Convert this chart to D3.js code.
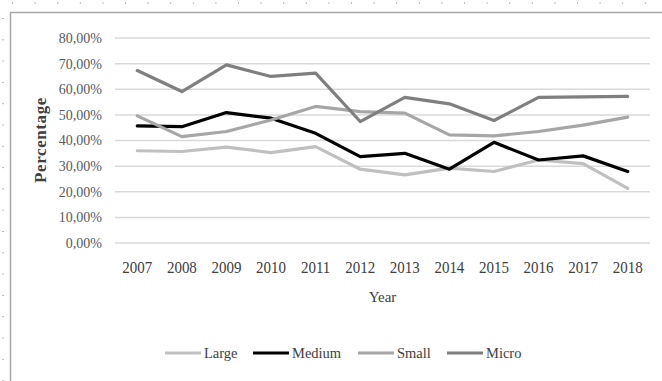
<!DOCTYPE html>
<html>
<head>
<meta charset="utf-8">
<script src="https://cdn.jsdelivr.net/npm/d3@7"></script>
<style>
  html, body { margin: 0; padding: 0; background: #fff; }
  svg { display: block; }
  text { font-family: "Liberation Serif", "DejaVu Serif", serif; }
</style>
</head>
<body>
<svg id="chart" width="662" height="381"></svg>
<script>
// Share of firms by size class, 2007–2018
const years = ["2007","2008","2009","2010","2011","2012","2013","2014","2015","2016","2017","2018"];
const large  = [36.0, 35.7, 37.4, 35.3, 37.6, 28.8, 26.6, 29.2, 27.9, 32.4, 31.0, 21.3];
const medium = [45.7, 45.4, 50.9, 48.7, 42.8, 33.7, 35.0, 28.8, 39.3, 32.4, 34.0, 27.9];
const small  = [49.6, 41.5, 43.5, 48.0, 53.3, 51.3, 50.7, 42.2, 41.8, 43.5, 46.0, 49.1];
const micro  = [67.3, 59.1, 69.5, 65.0, 66.3, 47.4, 56.8, 54.3, 47.8, 56.8, 57.0, 57.2];
const seriesNames = ["Large", "Medium", "Small", "Micro"];
const yTicks = [0, 10, 20, 30, 40, 50, 60, 70, 80];

const colors = { Large: "#c0c0c0", Medium: "#000000", Small: "#a6a6a6", Micro: "#7f7f7f" };
const series = [
  { name: "Large", values: large },
  { name: "Medium", values: medium },
  { name: "Small", values: small },
  { name: "Micro", values: micro }
];

const svg = d3.select("#chart");

// page ruler marks along top and left
const ruler = svg.append("g").attr("fill", "#bdbdbd");
ruler.selectAll("rect.tx").data(d3.range(12, 662, 22.6)).join("rect")
  .attr("x", d => d).attr("y", 2).attr("width", 1).attr("height", 2);
ruler.selectAll("rect.ly").data(d3.range(18, 381, 21.3)).join("rect")
  .attr("x", 2).attr("y", d => d).attr("width", 2).attr("height", 1);

// chart area frame
svg.append("rect")
  .attr("x", 10.5).attr("y", 12.5).attr("width", 670).attr("height", 400)
  .attr("fill", "#fff").attr("stroke", "#a6a6a6").attr("stroke-width", 1.5);

const x = d3.scaleBand().domain(years).range([115, 650]);
const y = d3.scaleLinear().domain([0, 80]).range([243, 38]);

// horizontal gridlines
svg.append("g").selectAll("line").data(yTicks).join("line")
  .attr("x1", 115).attr("x2", 650)
  .attr("y1", d => y(d)).attr("y2", d => y(d))
  .attr("stroke", "#d9d9d9").attr("stroke-width", 1.5);

// y axis labels
const fmt = d => d3.format(".2f")(d).replace(".", ",") + "%";
const yAxis = svg.append("g").attr("transform", "translate(108,0)")
  .call(d3.axisLeft(y).tickValues(yTicks).tickFormat(fmt).tickSize(0).tickPadding(6));
yAxis.select(".domain").remove();
yAxis.selectAll("text")
  .attr("fill", "#595959").style("font-size", "14px")
  .style("font-family", "'Liberation Sans Narrow', 'Liberation Serif', serif");

// x axis labels
const xAxis = svg.append("g").attr("transform", "translate(0,256)")
  .call(d3.axisBottom(x).tickSize(0).tickPadding(6));
xAxis.select(".domain").remove();
xAxis.selectAll("text").attr("fill", "#404040").style("font-size", "15px")
  .attr("transform", "scale(1,1.05)");

// axis titles
svg.append("text").attr("x", x("2012") + x.bandwidth())
  .attr("y", 302).attr("text-anchor", "middle")
  .attr("fill", "#404040").style("font-size", "15px").text("Year");
svg.append("text")
  .attr("transform", "translate(46,140) rotate(-90)")
  .attr("text-anchor", "middle").attr("fill", "#404040")
  .style("font-size", "17px").style("font-weight", "bold")
  .style("letter-spacing", "0.6px").text("Percentage");

// series lines
const line = d3.line()
  .x((d, i) => x(years[i]) + x.bandwidth() / 2)
  .y(d => y(d));

svg.append("g").selectAll("path").data(series).join("path")
  .attr("d", d => line(d.values))
  .attr("fill", "none")
  .attr("stroke", d => colors[d.name])
  .attr("stroke-width", 3.2)
  .attr("stroke-linejoin", "round")
  .attr("stroke-linecap", "round");

// legend
const legendX = { Large: 165, Medium: 253, Small: 358, Micro: 447 };
const legend = svg.append("g").selectAll("g").data(seriesNames).join("g")
  .attr("transform", d => `translate(${legendX[d]},353)`);
legend.append("line")
  .attr("x1", 0).attr("x2", 36).attr("y1", 0).attr("y2", 0)
  .attr("stroke", d => colors[d]).attr("stroke-width", 3.2);
legend.append("text")
  .attr("x", 39).attr("y", 5)
  .attr("fill", "#404040").style("font-size", "14.5px")
  .text(d => d);
</script>
</body>
</html>
